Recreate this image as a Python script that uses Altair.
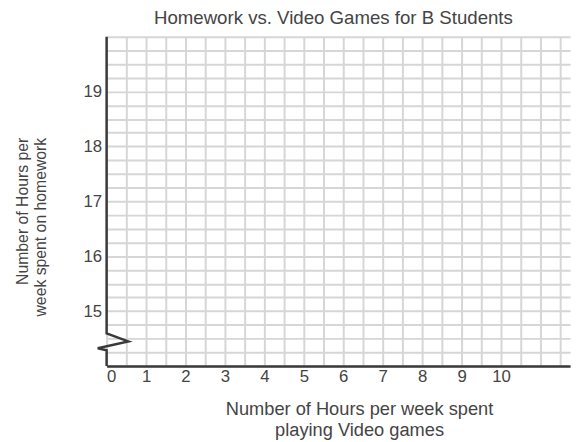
import altair as alt
import pandas as pd

# ---- data / labels ----
title_text = "Homework vs. Video Games for B Students"
x_title = ["Number of Hours per week spent", "playing Video games"]
y_title = ["Number of Hours per", "week spent on homework"]

x_domain = [0, 11.75]
y_domain = [14, 20]
x_label_values = list(range(0, 11))          # 0..10 labelled
y_label_values = [15, 16, 17, 18, 19]        # labelled
x_grid_values = [i * 0.5 for i in range(0, 24)]   # minor grid every 0.5
y_grid_values = [14 + i * 0.25 for i in range(0, 25)]  # minor grid every 0.25

# left axis with the "broken axis" zig-zag (data units)
break_x = [0, 0, 0.55, -0.225, 0, 0]
break_y = [20, 14.593, 14.449, 14.323, 14.287, 14]
break_order = list(range(len(break_x)))

df = pd.DataFrame({"x": break_x, "y": break_y, "o": break_order})

FONT = "Liberation Sans"
TEXT = "#444444"
AXIS = "#3a3a3a"
GRID = "#d6d6d6"

x_axis = alt.Axis(
    values=x_grid_values,
    labelExpr=f"datum.value % 1 === 0 && datum.value >= {min(x_label_values)} && datum.value <= {max(x_label_values)} ? format(datum.value, 'd') : ''",
    grid=True, gridColor=GRID, gridWidth=2,
    ticks=False,
    domain=True, domainColor=AXIS, domainWidth=2.5,
    labelFont=FONT, labelFontSize=17, labelColor=TEXT, labelPadding=3,
    labelOverlap=False,
    title=x_title, titleFont=FONT, titleFontSize=18.5, titleFontWeight="normal",
    titleColor=TEXT, titleAlign="center", titleBaseline="alphabetic",
    titleX=256, titleY=49, titleLineHeight=21,
)

y_axis = alt.Axis(
    values=y_grid_values,
    labelExpr=f"datum.value % 1 === 0 && datum.value >= {min(y_label_values)} && datum.value <= {max(y_label_values)} ? format(datum.value, 'd') : ''",
    grid=True, gridColor=GRID, gridWidth=2,
    ticks=False, domain=False,
    labelFont=FONT, labelFontSize=17, labelColor=TEXT, labelPadding=5,
    labelOverlap=False,
    title=y_title, titleFont=FONT, titleFontSize=16, titleFontWeight="normal",
    titleColor=TEXT, titleAngle=270, titleAlign="right", titleBaseline="alphabetic",
    titleX=-80, titleY=102, titleLineHeight=18.5,
)

chart = alt.Chart(df).mark_line(
    color=AXIS, strokeWidth=2.5, clip=False, strokeJoin="miter"
).encode(
    x=alt.X("x:Q", scale=alt.Scale(domain=x_domain, nice=False, zero=False), axis=x_axis),
    y=alt.Y("y:Q", scale=alt.Scale(domain=y_domain, nice=False, zero=False), axis=y_axis),
    order="o:Q",
).properties(
    width=470,
    height=334,
    title=alt.TitleParams(
        text=title_text, font=FONT, fontSize=18.9, fontWeight="normal",
        color=TEXT, anchor="middle", baseline="alphabetic", offset=9.5, dx=-5,
        dy=24.5, frame="group",
    ),
    autosize=alt.AutoSizeParams(type="none"),
    padding={"left": 100, "top": 26, "right": 3, "bottom": 74},
).configure_view(stroke=None)

chart.save("out.html", embed_options={"renderer": "svg", "actions": False})
